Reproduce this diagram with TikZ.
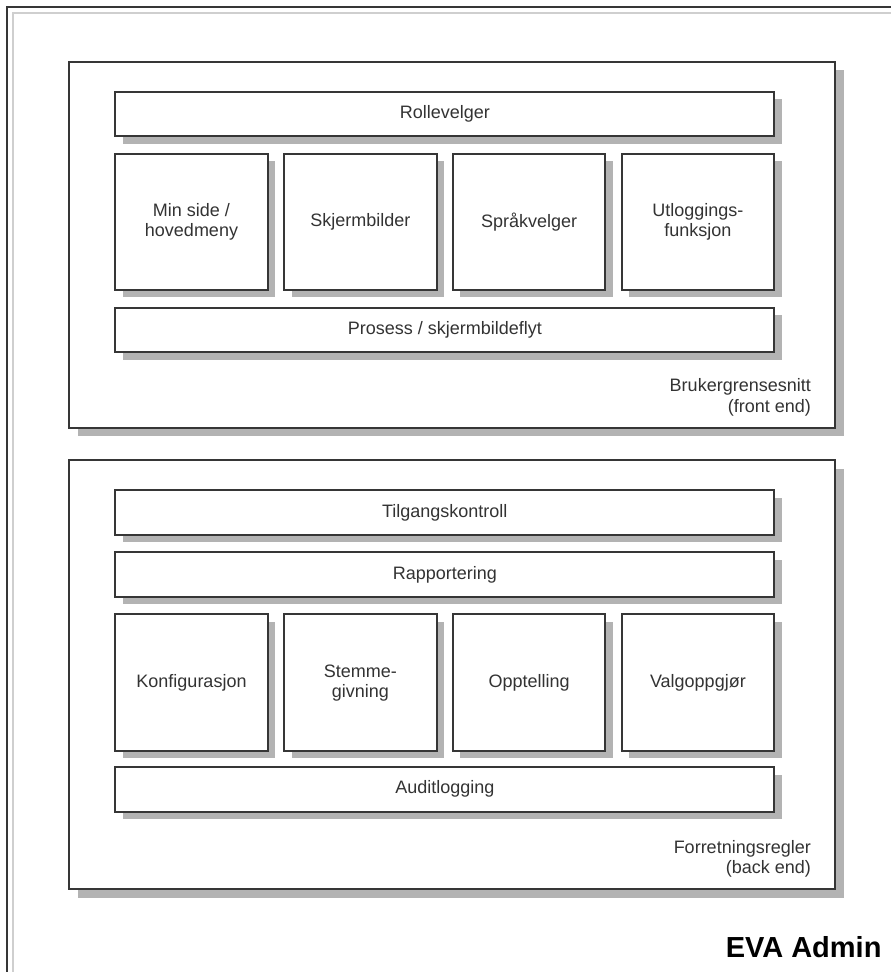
\documentclass[tikz,border=0pt]{standalone}
\usepackage{fontspec}
\setmainfont{Liberation Sans}
\usetikzlibrary{shadows}
\definecolor{linegray}{HTML}{363636}
\definecolor{textgray}{HTML}{333333}
\definecolor{shadegray}{HTML}{B3B3B3}
\definecolor{framegray}{HTML}{CFCFCF}
\begin{document}
\begin{tikzpicture}[x=1pt,y=-1pt,
    box/.style={draw=linegray,line width=2pt,fill=white,inner sep=0pt,
      text=textgray,align=center,font=\fontsize{18}{20}\selectfont},
    cell/.style={box,minimum width=152.5pt,minimum height=136.5pt,
      drop shadow={shadow xshift=7.5pt,shadow yshift=-7.5pt,fill=shadegray,opacity=1}},
    bar/.style={box,minimum width=659pt,minimum height=44.5pt,
      drop shadow={shadow xshift=7.5pt,shadow yshift=-7.5pt,fill=shadegray,opacity=1}},
    panel/.style={draw=linegray,line width=2pt,fill=white,minimum width=766pt,
      drop shadow={shadow xshift=8.5pt,shadow yshift=-8.5pt,fill=shadegray,opacity=1}},
    note/.style={text=textgray,align=right,inner sep=0pt,
      font=\fontsize{18}{20.5}\selectfont}]
    \useasboundingbox (0,0) rectangle (891,972);
    \clip (0,0) rectangle (891,972);
    % Frame
    \draw[framegray,line width=2pt] (13.3,12.8) rectangle (905,990);
    \draw[linegray,line width=2pt] (7.3,6.8) rectangle (899,984);
    % Front end
    \node[panel,minimum height=366pt] (FE) at (452.3,244.7) {};
    \node[bar] (RV) at (444.8,114) {Rollevelger};
    \node[cell,minimum height=136.3pt] (MS) at (191.5,221.8) {Min side /\\hovedmeny};
    \node[cell,minimum height=136.3pt] (SB) at (360.3,221.8) {Skjermbilder};
    \node[cell,minimum height=136.3pt] (SV) at (529.1,221.8) {Språkvelger};
    \node[cell,minimum height=136.3pt] (UF) at (697.9,221.8) {Utloggings-\\funksjon};
    \node[bar] (PS) at (444.8,329.8) {Prosess / skjermbildeflyt};
    \node[note,anchor=south east,xshift=-25.3pt,yshift=12.4pt] (FEL) at (FE.south east)
        {Brukergrensesnitt\\(front end)};
    % Back end
    \node[panel,minimum height=428.7pt] (BE) at (452.3,674.7) {};
    \node[bar] (TK) at (444.8,512.5) {Tilgangskontroll};
    \node[bar] (RP) at (444.8,574.5) {Rapportering};
    \node[cell] (KF) at (191.5,682.6) {Konfigurasjon};
    \node[cell] (SG) at (360.3,682.6) {Stemme-\\givning};
    \node[cell] (OT) at (529.1,682.6) {Opptelling};
    \node[cell] (VO) at (697.9,682.6) {Valgoppgjør};
    \node[bar] (AL) at (444.8,789.3) {Auditlogging};
    \node[note,anchor=south east,xshift=-25.3pt,yshift=12.2pt] (BEL) at (BE.south east)
        {Forretningsregler\\(back end)};
    % Title
    \node[anchor=base east,inner sep=0pt,font=\bfseries\fontsize{29}{34}\selectfont]
        (EVA) at (881.7,957) {EVA Admin};
\end{tikzpicture}
\end{document}
